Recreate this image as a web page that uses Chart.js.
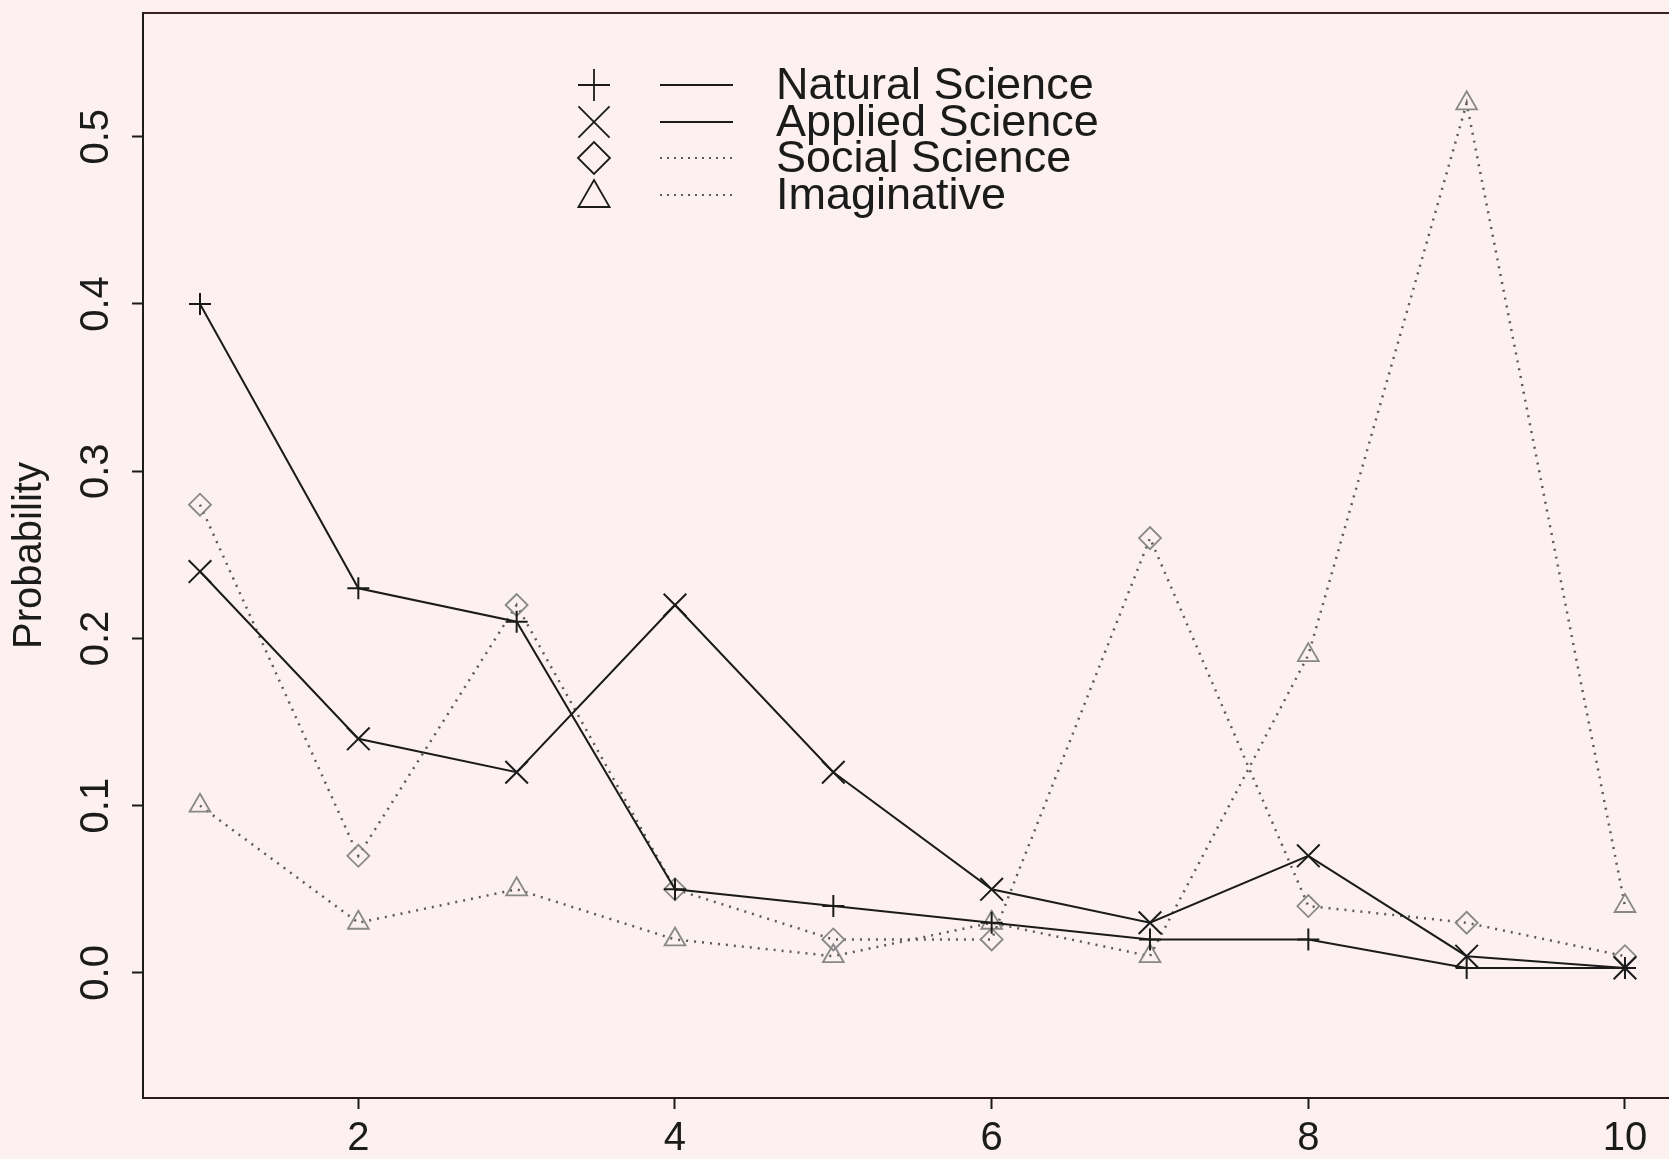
<!DOCTYPE html>
<html>
<head>
<meta charset="utf-8">
<script src="https://cdn.jsdelivr.net/npm/chart.js"></script>
<style>
  html, body { margin: 0; padding: 0; background: #fdf0f1; }
  canvas { display: block; }
</style>
</head>
<body>
<canvas id="probChart" width="1669" height="1159"></canvas>
<script>
// ── Data ─────────────────────────────────────────────────────
const xValues     = [1, 2, 3, 4, 5, 6, 7, 8, 9, 10];
const natural     = [0.40, 0.23, 0.21, 0.05, 0.04, 0.03, 0.02, 0.02, 0.003, 0.003];
const applied     = [0.24, 0.14, 0.12, 0.22, 0.12, 0.05, 0.03, 0.07, 0.01, 0.003];
const social      = [0.28, 0.07, 0.22, 0.05, 0.02, 0.02, 0.26, 0.04, 0.03, 0.01];
const imaginative = [0.10, 0.03, 0.05, 0.02, 0.01, 0.03, 0.01, 0.19, 0.52, 0.04];
const seriesNames = ['Natural Science', 'Applied Science', 'Social Science', 'Imaginative'];
const xTicks      = [2, 4, 6, 8, 10];
const yTicks      = [0.0, 0.1, 0.2, 0.3, 0.4, 0.5];

const FONT = '"Liberation Sans", Arial, Helvetica, sans-serif';
const BG   = '#fdf0f1';
const INK  = '#1b1b1b';
const DOT  = '#5a5a5a';

const toXY = ys => xValues.map((x, i) => ({ x, y: ys[i] }));

function solid(label, ys, style, r) {
  return {
    label, data: toXY(ys),
    borderColor: INK, borderWidth: 2,
    pointStyle: style, pointRadius: r, pointBorderWidth: 2,
    pointBorderColor: INK, pointBackgroundColor: 'rgba(0,0,0,0)',
    tension: 0,
  };
}
function dotted(label, ys, style, r) {
  return {
    label, data: toXY(ys),
    borderColor: DOT, borderWidth: 2.5, borderDash: [2, 6],
    pointStyle: style, pointRadius: r, pointBorderWidth: 1.8,
    pointBorderColor: '#888', pointBackgroundColor: 'rgba(0,0,0,0)',
    tension: 0,
  };
}

// ── Decorations: background, box, rotated y labels, legend ───
const decor = {
  id: 'decor',
  beforeDraw(chart) {
    const ctx = chart.ctx;
    ctx.save();
    ctx.fillStyle = BG;
    ctx.fillRect(0, 0, chart.width, chart.height);
    ctx.restore();
  },
  afterDraw(chart) {
    const ctx = chart.ctx;
    const a = chart.chartArea;
    const ys = chart.scales.y;

    // top edge of the box (right edge falls outside the picture)
    ctx.save();
    ctx.strokeStyle = '#3a2222';
    ctx.lineWidth = 2;
    ctx.beginPath();
    ctx.moveTo(a.left, a.top);
    ctx.lineTo(chart.width, a.top);
    ctx.stroke();

    // y tick labels, rotated like R's las=0
    ctx.fillStyle = INK;
    ctx.font = `40px ${FONT}`;
    ctx.textAlign = 'center';
    ctx.textBaseline = 'middle';
    yTicks.forEach(v => {
      const py = ys.getPixelForValue(v);
      ctx.save();
      ctx.translate(97, py);
      ctx.rotate(-Math.PI / 2);
      ctx.fillText(v.toFixed(1), 0, 0);
      ctx.restore();
    });

    // y axis title
    ctx.save();
    ctx.translate(30, (a.top + a.bottom) / 2);
    ctx.rotate(-Math.PI / 2);
    ctx.font = `40px ${FONT}`;
    ctx.fillText('Probability', 0, 0);
    ctx.restore();

    // legend
    const rows = [85, 122, 158, 195];
    chart.data.datasets.forEach((ds, i) => {
      const y = rows[i];
      ctx.save();
      ctx.strokeStyle = INK;
      ctx.fillStyle = 'rgba(0,0,0,0)';
      ctx.lineWidth = 1.8;
      if (Chart.helpers && Chart.helpers.drawPoint) {
        Chart.helpers.drawPoint(ctx, {
          pointStyle: ds.pointStyle, rotation: 0,
          radius: ds.pointStyle === 'crossRot' ? 22 : (ds.pointStyle === 'triangle' ? 18 : 16),
          borderWidth: 1.8,
        }, 594, ds.pointStyle === 'triangle' ? y + 3 : y);
      }
      ctx.restore();

      ctx.save();
      ctx.strokeStyle = ds.borderDash ? DOT : INK;
      ctx.lineWidth = 2;
      ctx.setLineDash(ds.borderDash ? [2, 5] : []);
      ctx.beginPath();
      ctx.moveTo(660, y);
      ctx.lineTo(733, y);
      ctx.stroke();
      ctx.restore();

      ctx.fillStyle = INK;
      ctx.font = `45px ${FONT}`;
      ctx.textAlign = 'left';
      ctx.textBaseline = 'middle';
      ctx.fillText(ds.label, 776, y + 2);
    });
    ctx.restore();
  },
};

new Chart(document.getElementById('probChart').getContext('2d'), {
  type: 'line',
  data: {
    datasets: [
      solid(seriesNames[0], natural, 'cross', 11),
      solid(seriesNames[1], applied, 'crossRot', 16),
      dotted(seriesNames[2], social, 'rectRot', 11),
      dotted(seriesNames[3], imaginative, 'triangle', 12),
    ],
  },
  options: {
    responsive: false,
    animation: false,
    layout: { autoPadding: false, padding: { top: 13, right: 0, left: 0, bottom: 0 } },
    plugins: { legend: { display: false }, tooltip: { enabled: false } },
    scales: {
      x: {
        type: 'linear',
        min: 0.64, max: 10.278,
        afterBuildTicks: s => { s.ticks = xTicks.map(v => ({ value: v })); },
        afterFit: s => { s.height = 61; s.paddingLeft = 0; s.paddingRight = 0; },
        grid: { drawOnChartArea: false, tickLength: 11, tickColor: INK, tickWidth: 2 },
        border: { color: '#2a1a1a', width: 2 },
        ticks: {
          color: INK, padding: 6, maxRotation: 0,
          font: { family: FONT, size: 40 },
          callback: v => String(v),
        },
      },
      y: {
        type: 'linear',
        min: -0.0748, max: 0.574,
        afterBuildTicks: s => { s.ticks = yTicks.map(v => ({ value: v })); },
        afterFit: s => { s.width = 143; s.paddingTop = 0; s.paddingBottom = 0; },
        grid: { drawOnChartArea: false, tickLength: 11, tickColor: INK, tickWidth: 2 },
        border: { color: INK, width: 2 },
        ticks: { display: false },
      },
    },
  },
  plugins: [decor],
});
</script>
</body>
</html>
